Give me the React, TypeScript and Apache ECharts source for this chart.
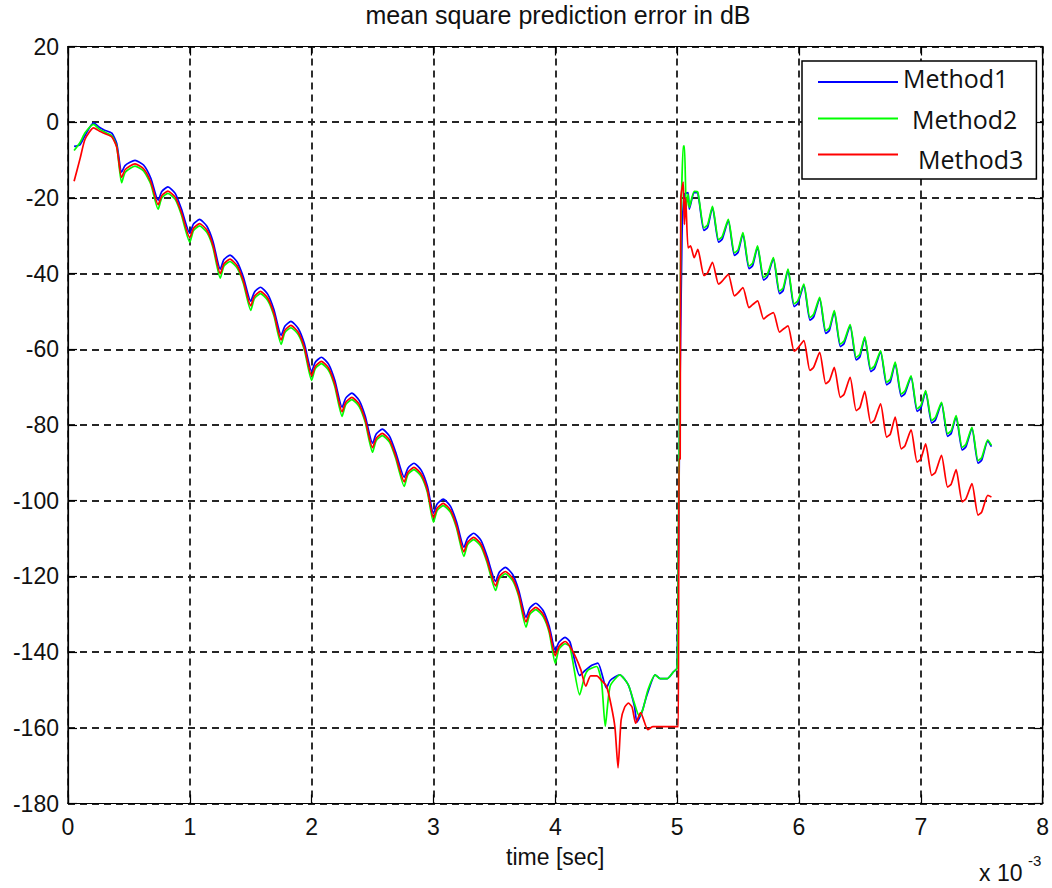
import React, { useEffect, useRef } from "react";
import * as echarts from "echarts";

// Shared time axis (x 10^-3 s) for the first, nearly coincident part
const tEarly = [
  0.05, 0.1, 0.14, 0.21, 0.26, 0.3, 0.36, 0.4, 0.44,
  0.47, 0.55, 0.62, 0.68, 0.74,
  0.77, 0.82, 0.88, 0.93, 1.0,
  1.03, 1.08, 1.14, 1.19, 1.25,
  1.28, 1.33, 1.39, 1.44, 1.5,
  1.53, 1.58, 1.64, 1.69, 1.75,
  1.78, 1.83, 1.89, 1.94, 2.0,
  2.03, 2.08, 2.14, 2.19, 2.25,
  2.28, 2.33, 2.39, 2.44, 2.5,
  2.53, 2.58, 2.64, 2.69, 2.76,
  2.79, 2.84, 2.9, 2.95, 3.0,
  3.03, 3.08, 3.14, 3.19, 3.25,
  3.28, 3.33, 3.39, 3.44, 3.51,
  3.54, 3.59, 3.65, 3.7, 3.76,
  3.79, 3.84, 3.9, 3.95, 4.0,
  4.03, 4.08,
];

const m1Early = [
  -6.4, -5.9, -3.5, -0.2, -1.4, -2.1, -2.9, -5.6, -13.2,
  -11.4, -10.1, -11.3, -14.8, -20.6,
  -18.3, -17.1, -18.8, -22.8, -29.3,
  -26.9, -25.7, -27.5, -31.5, -38.8,
  -36.3, -35.1, -37.0, -41.0, -47.3,
  -44.9, -43.6, -45.5, -49.5, -56.3,
  -53.9, -52.6, -54.5, -58.5, -65.8,
  -63.4, -62.1, -64.0, -68.2, -75.3,
  -72.9, -71.6, -73.5, -77.7, -84.8,
  -82.4, -81.1, -83.0, -87.2, -93.8,
  -91.4, -90.1, -92.0, -96.2, -103.3,
  -100.9, -99.6, -101.5, -105.7, -112.3,
  -109.9, -108.6, -110.5, -114.7, -121.3,
  -118.9, -117.6, -119.5, -123.7, -130.8,
  -128.4, -127.1, -129.0, -133.2, -139.5,
  -137.4, -136.1,
];

const m2Early = [
  -7.5, -5.3, -2.8, -0.6, -1.9, -2.6, -3.6, -6.4, -16.0,
  -13.2, -11.6, -12.9, -16.4, -23.0,
  -20.0, -18.8, -20.4, -24.4, -31.7,
  -28.6, -27.4, -29.1, -33.1, -41.2,
  -38.0, -36.8, -38.6, -42.6, -49.7,
  -46.6, -45.3, -47.1, -51.1, -58.7,
  -55.6, -54.3, -56.1, -60.1, -68.2,
  -65.1, -63.8, -65.6, -69.8, -77.7,
  -74.6, -73.3, -75.1, -79.3, -87.2,
  -84.1, -82.8, -84.6, -88.8, -96.2,
  -93.1, -91.8, -93.6, -97.8, -105.7,
  -102.6, -101.3, -103.1, -107.3, -114.7,
  -111.6, -110.3, -112.1, -116.3, -123.7,
  -120.6, -119.3, -121.1, -125.3, -133.4,
  -130.1, -128.8, -130.6, -134.8, -143.0,
  -139.2, -137.8,
];

const m3Early = [
  -15.6, -9.5, -4.5, -1.5, -2.4, -3.0, -3.9, -6.6, -14.6,
  -12.5, -11.0, -12.3, -15.8, -21.8,
  -19.4, -18.2, -19.8, -23.8, -30.5,
  -28.0, -26.8, -28.5, -32.5, -40.0,
  -37.4, -36.2, -38.0, -42.0, -48.5,
  -46.0, -44.7, -46.5, -50.5, -57.5,
  -55.0, -53.7, -55.5, -59.5, -67.0,
  -64.5, -63.2, -65.0, -69.2, -76.5,
  -74.0, -72.7, -74.5, -78.7, -86.0,
  -83.5, -82.2, -84.0, -88.2, -95.0,
  -92.5, -91.2, -93.0, -97.2, -104.5,
  -102.0, -100.7, -102.5, -106.7, -113.5,
  -111.0, -109.7, -111.5, -115.7, -122.5,
  -120.0, -118.7, -120.5, -124.7, -132.0,
  -129.5, -128.2, -130.0, -134.2, -141.0,
  -138.5, -137.2,
];

// Middle part (diverging region and the jump at t = 5)
const m1MidT = [4.12, 4.2, 4.24, 4.3, 4.35, 4.42, 4.45, 4.53, 4.6, 4.65, 4.67, 4.71, 4.75, 4.82, 4.86, 4.92, 4.97, 5.0, 5.02, 5.04, 5.06, 5.09, 5.1, 5.14];
const m1Mid = [-137.3, -146.2, -145.0, -143.5, -142.9, -149.5, -147.5, -146.0, -148.7, -154.4, -158.5, -156.0, -151.6, -146.0, -147.0, -147.0, -145.2, -144.2, -80, -30, -19.0, -18.6, -23.0, -18.6];

const m2MidT = [4.12, 4.2, 4.24, 4.27, 4.34, 4.38, 4.41, 4.45, 4.53, 4.6, 4.64, 4.69, 4.72, 4.76, 4.82, 4.86, 4.92, 4.97, 5.0, 5.01, 5.02, 5.03, 5.05, 5.06, 5.075, 5.09, 5.1, 5.14];
const m2Mid = [-138.6, -151.3, -146.5, -144.7, -143.8, -148.0, -159.6, -149.0, -146.0, -148.7, -152.6, -157.0, -155.0, -150.0, -146.0, -147.0, -147.0, -145.2, -144.2, -110, -76, -31, -6.3, -6.3, -22.6, -19.0, -22.5, -18.3];

const m3MidT = [4.12, 4.17, 4.21, 4.25, 4.29, 4.34, 4.38, 4.42, 4.46, 4.49, 4.515, 4.54, 4.57, 4.6, 4.63, 4.66, 4.7, 4.76, 4.8, 5.0, 5.01, 5.015, 5.025, 5.03, 5.05, 5.06, 5.07, 5.09, 5.11, 5.14];
const m3Mid = [-138.5, -141.5, -144.7, -149.0, -146.3, -146.3, -147.5, -149.0, -154.3, -160.0, -170.6, -158.0, -154.5, -153.5, -154.5, -158.8, -156.0, -160.5, -159.7, -159.7, -159.7, -89, -89, -20, -15.8, -27, -20, -33.2, -32.7, -35.8];

// Late part (after the reset), shared time axis
const tLate = [
  5.17, 5.22, 5.25, 5.29, 5.34, 5.37, 5.42, 5.47, 5.5,
  5.54, 5.59, 5.62, 5.66, 5.71, 5.74, 5.79, 5.84, 5.87,
  5.91, 5.96, 5.99, 6.04, 6.09, 6.12, 6.17, 6.22, 6.25,
  6.29, 6.34, 6.37, 6.42, 6.47, 6.5, 6.54, 6.59, 6.62,
  6.67, 6.72, 6.75, 6.79, 6.84, 6.87, 6.92, 6.97, 7.0,
  7.04, 7.09, 7.12, 7.17, 7.22, 7.25, 7.29, 7.34, 7.37,
  7.42, 7.47, 7.5, 7.55, 7.58,
];

const m1Late = [
  -18.8, -28.6, -27.8, -22.5, -31.7, -30.9, -26.0, -35.2, -34.4,
  -29.5, -38.7, -37.9, -33.0, -41.7, -40.9, -36.1, -45.3, -44.5,
  -39.1, -48.7, -47.9, -43.1, -52.3, -51.5, -46.6, -55.8, -55.0,
  -50.1, -59.3, -58.5, -53.8, -62.8, -62.0, -57.0, -65.9, -65.1,
  -60.7, -69.4, -68.6, -63.7, -72.5, -71.7, -67.3, -76.4, -75.6,
  -71.2, -79.5, -78.7, -74.3, -83.0, -82.2, -77.8, -86.6, -85.8,
  -80.9, -90.1, -89.3, -84.2, -85.7,
];

const m2Late = [
  -18.5, -27.9, -27.1, -22.2, -31.0, -30.2, -25.7, -34.5, -33.7,
  -29.2, -38.0, -37.2, -32.7, -41.0, -40.2, -35.8, -44.6, -43.8,
  -38.8, -48.0, -47.2, -42.8, -51.6, -50.8, -46.3, -55.1, -54.3,
  -49.8, -58.6, -57.8, -53.5, -62.1, -61.3, -56.7, -65.2, -64.4,
  -60.4, -68.7, -67.9, -63.4, -71.8, -71.0, -67.0, -75.7, -74.9,
  -70.9, -78.8, -78.0, -74.0, -82.3, -81.5, -77.5, -85.9, -85.1,
  -80.6, -89.4, -88.6, -83.9, -85.4,
];

const m3Late = [
  -33.6, -40.5, -39.8, -37.0, -42.8, -42.0, -40.2, -45.9, -45.1,
  -43.7, -49.0, -48.2, -47.2, -52.0, -51.2, -50.3, -55.5, -54.7,
  -53.8, -60.5, -59.7, -57.7, -65.6, -64.8, -60.8, -69.1, -68.3,
  -64.8, -72.7, -71.9, -67.4, -76.2, -75.4, -71.1, -79.5, -78.7,
  -74.4, -83.2, -82.4, -77.9, -86.3, -85.5, -81.3, -89.8, -89.0,
  -85.0, -93.3, -92.5, -88.0, -96.4, -95.6, -91.8, -100.3, -99.5,
  -95.5, -103.8, -103.0, -98.6, -99.0,
];

const seriesNames = ["Method1", "Method2", "Method3"];
const seriesColors = ["#0000ff", "#00ff00", "#ff0000"];

const pairs = (xs: number[], ys: number[]) => xs.map((x, i) => [x, ys[i]]);

const m1Data = [...pairs(tEarly, m1Early), ...pairs(m1MidT, m1Mid), ...pairs(tLate, m1Late)];
const m2Data = [...pairs(tEarly, m2Early), ...pairs(m2MidT, m2Mid), ...pairs(tLate, m2Late)];
const m3Data = [...pairs(tEarly, m3Early), ...pairs(m3MidT, m3Mid), ...pairs(tLate, m3Late)];
const allData = [m1Data, m2Data, m3Data];

const FONT = "'Liberation Sans', Arial, sans-serif";
const LEGEND_FONT = "'Open Sans', 'Noto Sans', sans-serif";

export default function App() {
  const ref = useRef<HTMLDivElement>(null);

  useEffect(() => {
    if (!ref.current) return;
    const chart = echarts.init(ref.current, null, { renderer: "svg" });

    const gridLine = { show: true, lineStyle: { color: "#262626", width: 1.9, type: [7, 5] as any } };

    chart.setOption({
      animation: false,
      backgroundColor: "#ffffff",
      title: {
        text: "mean square prediction error in dB",
        left: 556,
        textAlign: "center",
        top: 0,
        padding: 2,
        textStyle: { fontFamily: FONT, fontSize: 25, fontWeight: "normal", color: "#111" },
      },
      legend: {
        orient: "vertical",
        left: 802,
        top: 61,
        padding: [4, 13, 8, 16],
        icon: "rect",
        itemWidth: 80,
        itemHeight: 2,
        itemGap: 7,
        selectedMode: false,
        backgroundColor: "#ffffff",
        borderColor: "#000",
        borderWidth: 1.5,
        borderRadius: 0,
        data: seriesNames,
        formatter: (name: string) => {
          const k = name === "Method1" ? "a" : name === "Method2" ? "b" : "c";
          return `{${k}|${name}}`;
        },
        textStyle: {
          fontFamily: LEGEND_FONT,
          fontSize: 25,
          color: "#111",
          rich: {
            a: { fontFamily: LEGEND_FONT, fontSize: 25, color: "#111", lineHeight: 26, padding: [0, 0, 9, 0] },
            b: { fontFamily: LEGEND_FONT, fontSize: 25, color: "#111", lineHeight: 26, padding: [0, 0, 0, 9] },
            c: { fontFamily: LEGEND_FONT, fontSize: 25, color: "#111", lineHeight: 26, padding: [8, 0, 0, 15] },
          },
        },
      },
      grid: {
        left: 68,
        right: 6,
        top: 46.5,
        bottom: 84.5,
        show: true,
        borderColor: "#000",
        borderWidth: 1.2,
        backgroundColor: "transparent",
      },
      xAxis: [
        {
          type: "value",
          min: 0,
          max: 8,
          interval: 1,
          position: "bottom",
          name: "time [sec]",
          nameLocation: "middle",
          nameGap: 42,
          nameTextStyle: { fontFamily: FONT, fontSize: 23, color: "#111" },
          axisLine: { show: true, onZero: false, lineStyle: { color: "#000", width: 1.2 } },
          axisTick: { show: true, inside: true, length: 9, lineStyle: { color: "#000", width: 1.2 } },
          axisLabel: { fontFamily: FONT, fontSize: 23, color: "#111", margin: 12 },
          splitLine: gridLine,
        },
        {
          type: "value",
          min: 0,
          max: 8,
          interval: 1,
          position: "top",
          axisLine: { show: true, onZero: false, lineStyle: { color: "#000", width: 1.2 } },
          axisTick: { show: true, inside: true, length: 9, lineStyle: { color: "#000", width: 1.2 } },
          axisLabel: { show: false },
          splitLine: { show: false },
        },
      ],
      yAxis: [
        {
          type: "value",
          min: -180,
          max: 20,
          interval: 20,
          position: "left",
          axisLine: { show: true, onZero: false, lineStyle: { color: "#000", width: 1.2 } },
          axisTick: { show: true, inside: true, length: 9, lineStyle: { color: "#000", width: 1.2 } },
          axisLabel: { fontFamily: FONT, fontSize: 23, color: "#111", margin: 9 },
          splitLine: gridLine,
        },
        {
          type: "value",
          min: -180,
          max: 20,
          interval: 20,
          position: "right",
          axisLine: { show: true, onZero: false, lineStyle: { color: "#000", width: 1.2 } },
          axisTick: { show: true, inside: true, length: 9, lineStyle: { color: "#000", width: 1.2 } },
          axisLabel: { show: false },
          splitLine: { show: false },
        },
      ],
      graphic: [
        {
          type: "text",
          left: 979,
          top: 861,
          style: { text: "x 10", fontFamily: FONT, fontSize: 23, fill: "#111" },
        },
        {
          type: "text",
          left: 1028,
          top: 853,
          style: { text: "-3", fontFamily: FONT, fontSize: 15, fill: "#111" },
        },
      ],
      series: seriesNames.map((name, i) => ({
        name,
        type: "line",
        xAxisIndex: 0,
        yAxisIndex: 0,
        data: allData[i],
        symbol: "none",
        showSymbol: false,
        smooth: 0.2,
        color: seriesColors[i],
        lineStyle: { color: seriesColors[i], width: 1.7 },
        z: 3 + i,
      })),
    });

    return () => chart.dispose();
  }, []);

  return (
    <div
      ref={ref}
      style={{ position: "absolute", left: 0, top: 0, width: 1052, height: 888, background: "#fff" }}
    />
  );
}
